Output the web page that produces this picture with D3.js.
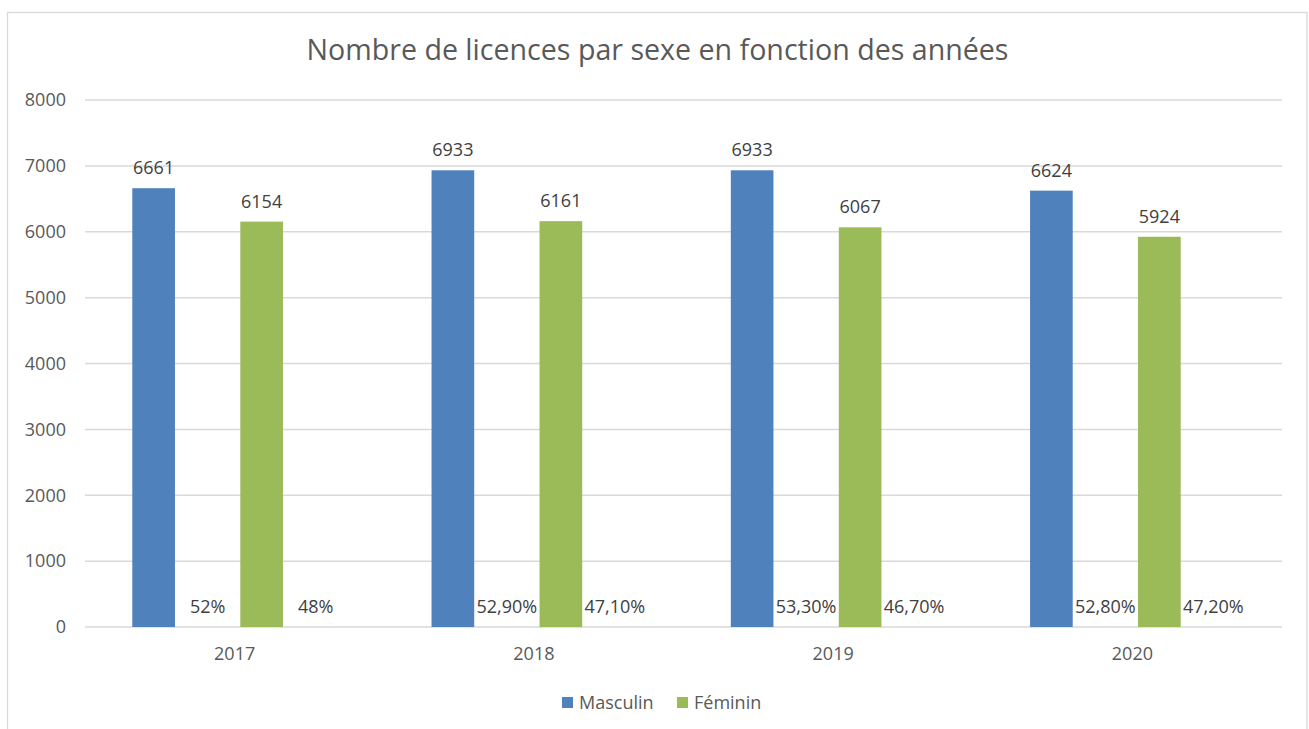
<!DOCTYPE html>
<html><head><meta charset="utf-8">
<script src="https://cdn.jsdelivr.net/npm/d3@7"></script>
<style>body{margin:0;background:#fff}svg{display:block}text{font-family:"Open Sans",sans-serif}</style>
</head><body>
<svg id="c" width="1309" height="729"></svg>
<script>
const title = "Nombre de licences par sexe en fonction des années";
const years = ["2017","2018","2019","2020"];
const masculin = [6661, 6933, 6933, 6624];
const feminin = [6154, 6161, 6067, 5924];
const masculinPct = [0.52, 0.529, 0.533, 0.528];
const femininPct = [0.48, 0.471, 0.467, 0.472];
const masculinPctLabels = ["52%", "52,90%", "53,30%", "52,80%"];
const femininPctLabels = ["48%", "47,10%", "46,70%", "47,20%"];
const yTicks = [0,1000,2000,3000,4000,5000,6000,7000,8000];
const seriesNames = ["Masculin","Féminin"];
const colors = {Masculin:"#4F81BD", "Féminin":"#9BBB59"};

const svg = d3.select("#c");
const W = 1309, H = 729;
const m = {left:85, right:1282, top:100, bottom:627};

svg.append("rect").attr("x",7.5).attr("y",12.5).attr("width",1299.5).attr("height",740)
  .attr("fill","#fff").attr("stroke","#d9d9d9").attr("stroke-width",1.3);

const x0 = d3.scaleBand().domain(years).range([m.left,m.right]).paddingInner(0).paddingOuter(0);
const slots = ["m","mp","f","fp"];
const x1 = d3.scaleBand().domain(slots).range([0,x0.bandwidth()]).paddingInner(0.21).paddingOuter(0.876);
const y = d3.scaleLinear().domain([0,8000]).range([m.bottom,m.top]);

// grid
svg.append("g").selectAll("line").data(yTicks).join("line")
  .attr("x1",m.left).attr("x2",m.right)
  .attr("y1",d=>y(d)).attr("y2",d=>y(d))
  .attr("stroke","#d9d9d9").attr("stroke-width",1.5);

// y axis labels
const yAxis = d3.axisLeft(y).tickValues(yTicks).tickSize(0).tickPadding(19).tickFormat(d3.format("d"));
const ga = svg.append("g").attr("transform",`translate(${m.left},0)`).call(yAxis);
ga.select(".domain").remove();
ga.selectAll("text").attr("font-size",18).attr("fill","#595959").style("font-family","'Open Sans'");

// x axis labels
const xAxis = d3.axisBottom(x0).tickSize(0).tickPadding(20);
const gx = svg.append("g").attr("transform",`translate(0,${m.bottom})`).call(xAxis);
gx.select(".domain").remove();
gx.selectAll("text").attr("font-size",18).attr("fill","#595959").style("font-family","'Open Sans'");

const rows = years.map((yr,i)=>({yr, m:masculin[i], f:feminin[i], mp:masculinPct[i], fp:femininPct[i], mpl:masculinPctLabels[i], fpl:femininPctLabels[i]}));

const g = svg.append("g");
// bars
g.selectAll("rect.m").data(rows).join("rect")
  .attr("x",d=>x0(d.yr)+x1("m")).attr("width",x1.bandwidth())
  .attr("y",d=>y(d.m)).attr("height",d=>y(0)-y(d.m)).attr("fill",colors.Masculin);
g.selectAll("rect.f").data(rows).join("rect")
  .attr("x",d=>x0(d.yr)+x1("f")).attr("width",x1.bandwidth())
  .attr("y",d=>y(d.f)).attr("height",d=>y(0)-y(d.f)).attr("fill",colors["Féminin"]);

const lab = (key, val, txt)=> g.append("g").selectAll("text").data(rows).join("text")
  .attr("x",d=>x0(d.yr)+x1(key)+x1.bandwidth()/2)
  .attr("y",d=>y(val(d))-14)
  .attr("text-anchor","middle").attr("font-size",18).attr("fill","#404040")
  .text(txt);
lab("m", d=>d.m, d=>d.m);
lab("f", d=>d.f, d=>d.f);
lab("mp", d=>d.mp, d=>d.mpl);
lab("fp", d=>d.fp, d=>d.fpl);

// title
svg.append("text").attr("x",657.5).attr("y",60).attr("text-anchor","middle")
  .attr("font-size",28.6).attr("fill","#595959").text(title);

// legend
const leg = svg.append("g");
const legItems = [{n:"Masculin",x:562},{n:"Féminin",x:677}];
leg.selectAll("rect").data(legItems).join("rect")
  .attr("x",d=>d.x).attr("y",697).attr("width",11).attr("height",11).attr("fill",d=>colors[d.n]);
leg.selectAll("text").data(legItems).join("text")
  .attr("x",d=>d.x+17).attr("y",709).attr("font-size",18).attr("fill","#595959").text(d=>d.n);
</script>
</body></html>
